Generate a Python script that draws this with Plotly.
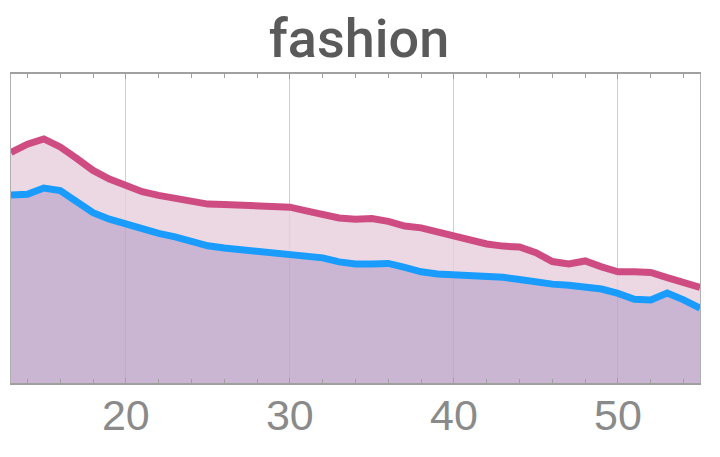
import plotly.graph_objects as go

ages = list(range(13, 56))
fashion_top = [74.6, 77.3, 79.0, 76.4, 72.7, 68.8, 66.0, 63.9, 61.9, 60.7,
               59.7, 58.6, 57.9, 57.8, 57.6, 57.1, 56.8, 56.9, 55.7, 54.3,
               53.4, 53.0, 53.2, 52.3, 50.8, 50.2, 49.0, 47.3, 46.1, 45.0,
               44.3, 44.0, 42.2, 39.3, 38.5, 39.5, 37.6, 36.0, 36.0, 35.8,
               34.1, 32.3, 30.9]
fashion_bottom = [60.8, 61.1, 63.1, 62.3, 58.7, 55.1, 53.0, 51.3, 49.6, 48.4,
                  47.3, 45.7, 44.4, 43.7, 43.2, 42.9, 42.4, 42.0, 41.4, 40.5,
                  39.2, 38.5, 38.5, 38.7, 37.4, 36.0, 35.3, 35.0, 35.1, 34.8,
                  34.2, 33.5, 32.5, 32.0, 31.6, 31.2, 30.4, 29.0, 27.1, 26.9,
                  29.1, 26.9, 24.2]
major_ticks = [20, 30, 40, 50]
tick_labels = ["20", "30", "40", "50"]

PINK = "#cf4c83"
BLUE = "#1a9cff"

fig = go.Figure()
fig.add_trace(go.Scatter(x=ages, y=fashion_bottom, mode="lines",
                         line=dict(width=0), fill="tozeroy",
                         fillcolor="rgba(189,164,200,0.8)", hoverinfo="skip"))
fig.add_trace(go.Scatter(x=ages, y=fashion_top, mode="lines",
                         line=dict(width=0), fill="tonexty",
                         fillcolor="rgba(230,206,219,0.8)", hoverinfo="skip"))
fig.add_trace(go.Scatter(x=ages, y=fashion_top, mode="lines",
                         line=dict(color=PINK, width=7), hoverinfo="skip"))
fig.add_trace(go.Scatter(x=ages, y=fashion_bottom, mode="lines",
                         line=dict(color=BLUE, width=7), hoverinfo="skip"))

# the page body has an 8px margin, so the figure is sized to fit the window
fig.update_layout(
    width=712, height=449,
    margin=dict(l=3, r=20, t=66, b=74, autoexpand=False),
    paper_bgcolor="white", plot_bgcolor="white",
    showlegend=False,
    title=dict(text="fashion", x=0.493, xanchor="center",
               y=0.933, yanchor="middle", yref="container",
               font=dict(family="Roboto", size=54, color="#5a5a5a", weight=500)),
)
fig.update_xaxes(
    range=[13, 55], tickmode="array", tickvals=major_ticks, ticktext=tick_labels,
    automargin=False,
    showgrid=True, gridcolor="#cfcfcf", gridwidth=1,
    showline=True, linecolor="#a0a0a0", linewidth=2, mirror="ticks",
    ticks="inside", ticklen=5, tickcolor="#a0a0a0",
    tickfont=dict(family="Liberation Sans", size=43, color="#8a8a8a"),
    ticklabelstandoff=-7,
    minor=dict(ticks="inside", ticklen=4, tick0=0, dtick=2, tickcolor="#a0a0a0",
               showgrid=False),
    zeroline=False,
)
fig.update_yaxes(
    range=[0, 100], showticklabels=False, showgrid=False, zeroline=False,
    automargin=False,
    showline=True, linecolor="#b0b0b0", linewidth=1, mirror=True, ticks="",
)
fig.write_html("out.html")
